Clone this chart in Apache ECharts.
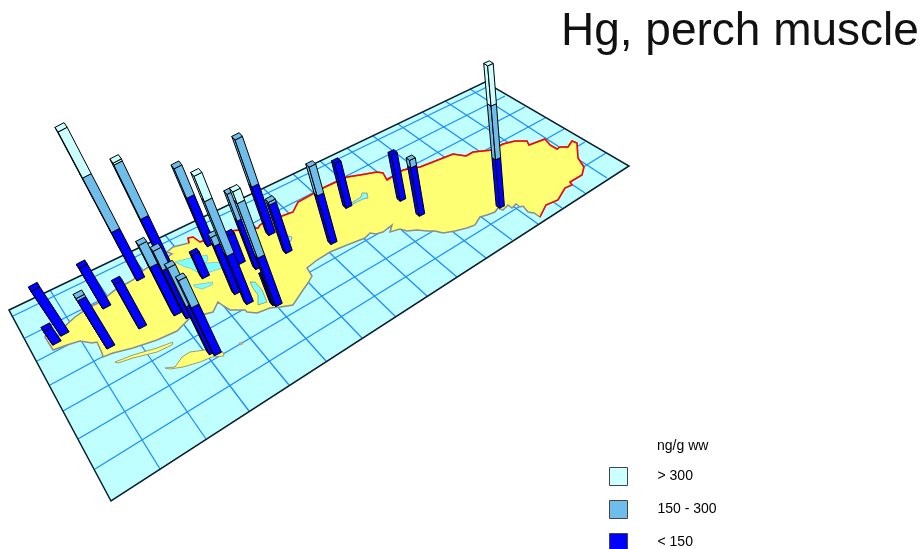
<!DOCTYPE html>
<html>
<head>
<meta charset="utf-8">
<style>html,body{margin:0;padding:0;background:#fff}#c{width:922px;height:549px}</style>
<script src="https://cdn.jsdelivr.net/npm/echarts@6/dist/echarts.min.js"></script>
</head>
<body>
<div id="c"></div>
<script>
// Map plane (axis units of the hidden map scale)
const planeOutline = [[9,310],[485,82],[629,166],[111,501]];
const meridianStart = [[50,290],[90,271],[129,252],[165,235],[199,219],[232,203],[263,188],[293,174],[320,161],[347,148],[373,136],[398,124],[422,112],[445,101],[470,89]];
const meridianEnd = [[160,469],[206,439],[249,411],[289,385],[326,361],[362,338],[396,317],[427,296],[457,277],[486,258],[512,240],[538,224],[562,208],[585,193],[607,178]];
const parallelStart = [[13,316],[25,338],[37,361],[50,385],[63,411],[78,439],[95,469]];
const parallelEnd = [[487,87],[505,96],[525,107],[545,118],[564,129],[585,142],[606,153]];

// Coastlines
const southCoast = [[45,337],[53,350],[67,345],[80,341],[92,343],[97,342],[102,353],[103,357],[113,353],[133,348],[157,340],[177,331],[190,318],[213,312],[218,302],[222,305],[230,310],[245,310],[247,312],[257,313],[270,308],[280,307],[293,305],[303,290],[308,283],[312,276],[307,268],[317,260],[330,252],[347,245],[365,238],[370,233],[376,234],[383,232],[392,225],[390,232],[400,229],[407,231],[417,230],[427,231],[435,231],[443,233],[455,231],[467,228],[475,225],[480,217],[487,215],[495,212],[498,208],[503,210],[508,205],[512,208],[516,204],[520,207],[523,206],[528,212],[534,213],[540,217]];
const easternBorder = [[540,217],[546,205],[558,200],[565,188],[572,185],[570,182],[582,175],[584,167],[578,158],[577,143],[572,141],[568,147],[560,147],[557,149],[550,145],[545,139],[537,142],[529,145],[527,141],[515,141],[503,144],[492,150],[473,152],[466,156],[453,154],[443,158],[420,167],[403,170],[387,180],[383,173],[377,172],[360,175],[347,177],[325,187],[298,202],[293,212],[282,216],[270,218],[260,225],[258,228],[230,231],[200,242],[193,237],[188,238],[189,243]];
const northCoast = [[189,243],[173,247],[167,252],[172,254],[163,260],[147,268],[140,273],[133,280],[115,290],[100,302],[88,308],[75,317],[63,328],[58,337],[47,332],[45,337]];
const islandOne = [[115,362],[133,355],[157,348],[173,342],[172,345],[157,352],[133,358],[118,363]];
const islandTwo = [[165,368],[175,367],[182,357],[190,352],[212,349],[223,352],[224,356],[212,357],[200,362],[183,367],[170,369]];
const islet = [[239,343],[243,342],[243,344],[240,345]];
const lakeOne = [[175,262],[190,258],[207,255],[208,260],[205,263],[226,262],[222,268],[207,273],[197,272],[190,268],[185,267]];
const lakeTwo = [[193,285],[213,282],[212,285],[202,289],[195,287]];
const lakeThree = [[250,282],[255,282],[262,290],[267,302],[258,305],[258,295],[253,288]];
const lakeFour = [[362,193],[367,193],[368,198],[363,199],[353,204],[348,207],[353,202],[361,197]];
const lakeFive = [[288,236],[292,237],[291,241],[288,242],[284,246],[287,240]];

// Stations, far to near: map position and Hg in ng/g ww
const stationX = [403,349,502,422,272,334,211,289,242,259,168,206,141,238,250,276,279,107,178,190,143,65,57,111,213,218];
const stationY = [200,207,207,215,234,243,245,252,263,268,266,277,279,293,303,304,305,307,314,317,327,334,343,347,353,354];
const hgValues = [144,139,402,172,282,232,234,158,90,226,305,74,414,175,364,92,330,127,213,205,139,140,44,157,258,227];

// Classes
const classLabels = ['> 300','150 - 300','< 150'];
const classColors = ['#ccffff','#6fbdea','#0000ff'];
const classBreaks = [150,300];

const VANISH = [575,1106];
function lerp(a,b,t){return a+(b-a)*t;}

function outlineSeries(points, style){
  return {type:'custom',coordinateSystem:'cartesian2d',silent:true,data:[0],
    renderItem:function(p,api){
      return {type:'polygon',shape:{points:points.map(q=>api.coord(q))},style:style};
    }};
}
function pathSeries(lines, style){
  return {type:'custom',coordinateSystem:'cartesian2d',silent:true,data:lines.map((l,i)=>i),
    renderItem:function(p,api){
      return {type:'polyline',shape:{points:lines[p.dataIndex].map(q=>api.coord(q))},style:Object.assign({fill:null},style)};
    }};
}
function renderBar(params,api){
  const x=api.value(0),y=api.value(1),hg=api.value(2);
  const vp=api.coord(VANISH), b=api.coord([x,y]);
  const t=Math.max(0,Math.min(1,(x-40)/460));
  const u=[lerp(8.5,4.8,t),lerp(-4.5,-2.2,t)];
  const v=[lerp(2.4,3.4,t),lerp(4.4,2.2,t)];
  const c=0.00034+(y-207)*4.1e-7;
  const a=[b[0]-u[0]/2,b[1]-u[1]/2];
  const right=[a[0]+u[0],a[1]+u[1]];
  const left=[a[0]-v[0],a[1]-v[1]];
  const back=[right[0]-v[0],right[1]-v[1]];
  const lift=(pt,h)=>{const d=1/(1-c*h);return [vp[0]+(pt[0]-vp[0])*d,vp[1]+(pt[1]-vp[1])*d];};
  const stroke={stroke:'#000',lineWidth:1,lineJoin:'round'};
  const children=[];
  const poly=(pts,fill)=>children.push({type:'polygon',shape:{points:pts},style:Object.assign({fill:fill},stroke)});
  const stops=[0].concat(classBreaks.filter(s=>s<hg)).concat([hg]);
  const colors=[classColors[2],classColors[1],classColors[0]];
  for(let i=0;i<stops.length-1;i++){
    const h0=stops[i],h1=stops[i+1],col=colors[i];
    poly([lift(a,h0),lift(left,h0),lift(left,h1),lift(a,h1)],col);
    poly([lift(a,h0),lift(right,h0),lift(right,h1),lift(a,h1)],col);
  }
  const topCol=colors[stops.length-2];
  poly([lift(a,hg),lift(right,hg),lift(back,hg),lift(left,hg)],topCol);
  return {type:'group',children:children};
}

const gridLines=[];
meridianStart.forEach((s,i)=>gridLines.push([s,meridianEnd[i]]));
parallelStart.forEach((s,i)=>gridLines.push([s,parallelEnd[i]]));

const chart=echarts.init(document.getElementById('c'),null,{renderer:'canvas'});
chart.setOption({
  animation:false,
  backgroundColor:'#ffffff',
  title:[
    {text:'Hg, perch muscle',left:561,top:9,textStyle:{fontFamily:'Liberation Sans',fontSize:46,fontWeight:'normal',color:'#111'},padding:0},
    {text:'ng/g ww',left:657,top:439,textStyle:{fontFamily:'Liberation Sans',fontSize:14,fontWeight:'normal',color:'#000'},padding:0}
  ],
  legend:{
    orient:'vertical',left:609,top:440,height:109,padding:[27,0,0,0],itemWidth:18,itemHeight:18,itemGap:14,icon:'rect',
    selectedMode:false,
    data:classLabels.map((n,i)=>({name:n,itemStyle:{color:classColors[i],borderColor:'#444',borderWidth:1}})),
    textStyle:{fontFamily:'Liberation Sans',fontSize:14,color:'#000',padding:[0,0,0,25]}
  },
  grid:{left:0,right:0,top:0,bottom:0,containLabel:false},
  xAxis:{type:'value',min:0,max:922,show:false},
  yAxis:{type:'value',min:0,max:549,inverse:true,show:false},
  series:[
    outlineSeries(planeOutline,{fill:'#bfffff',stroke:'none'}),
    pathSeries(gridLines,{stroke:'#1e8cff',lineWidth:1.3}),
    outlineSeries(planeOutline,{fill:null,stroke:'#0a1e2e',lineWidth:1.5}),
    outlineSeries(southCoast.concat(easternBorder).concat(northCoast),{fill:'#ffff73',stroke:'#8c8c8c',lineWidth:1.5}),
    outlineSeries(islandOne,{fill:'#ffff73',stroke:'#a09a70',lineWidth:1}),
    outlineSeries(islandTwo,{fill:'#ffff73',stroke:'#a09a70',lineWidth:1}),
    outlineSeries(islet,{fill:'#c8b070',stroke:'#a09a70',lineWidth:0.6}),
    outlineSeries(lakeOne,{fill:'#7fffff',stroke:'#8cbcbc',lineWidth:0.8}),
    outlineSeries(lakeTwo,{fill:'#7fffff',stroke:'#8cbcbc',lineWidth:0.8}),
    outlineSeries(lakeThree,{fill:'#7fffff',stroke:'#8c8c8c',lineWidth:0.8}),
    outlineSeries(lakeFour,{fill:'#7fffff',stroke:'#8c8c8c',lineWidth:0.8}),
    outlineSeries(lakeFive,{fill:'#7fffff',stroke:'#8c8c8c',lineWidth:0.8}),
    pathSeries([easternBorder],{stroke:'#ff0000',lineWidth:1.5}),
    {type:'custom',coordinateSystem:'cartesian2d',silent:true,renderItem:renderBar,clip:false,
     encode:{x:0,y:1},
     data:stationX.map((x,i)=>[x,stationY[i],hgValues[i]])},
    ...classLabels.map((n,i)=>({type:'custom',name:n,data:[],renderItem:function(){return null;},itemStyle:{color:classColors[i]}}))
  ]
});
</script>
</body>
</html>
